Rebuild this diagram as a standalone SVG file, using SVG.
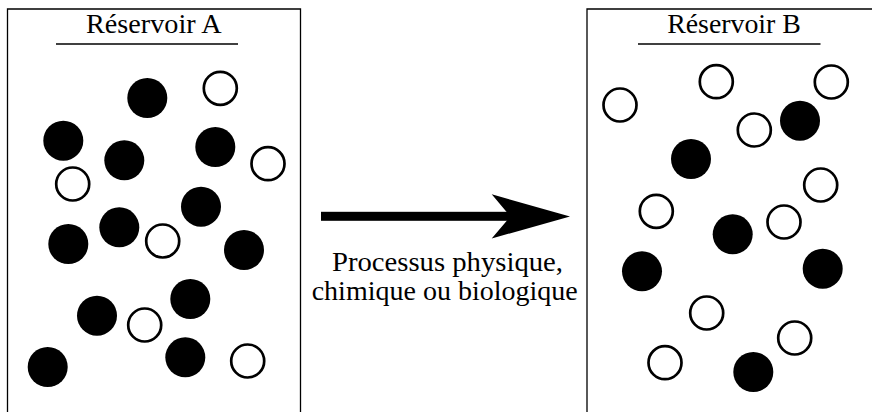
<svg xmlns="http://www.w3.org/2000/svg" width="872" height="412" viewBox="0 0 872 412">
<style>
.box{fill:none;stroke:#000;stroke-width:1.3}
.rule{stroke:#000;stroke-width:1.5}
.title{font-family:"Liberation Serif","Times New Roman",serif;font-size:28px;fill:#000;text-anchor:middle}
.lbl{font-family:"Liberation Serif","Times New Roman",serif;font-size:28px;fill:#000;text-anchor:middle}
.f{fill:#000}
.o{fill:#fff;stroke:#000;stroke-width:2.7}
</style>
<rect width="872" height="412" fill="#fff"/>
<g id="reservoir-a">
<path class="box" d="M7.5,420 V9 H300.5 V420"/>
<text class="title" x="153.8" y="33" textLength="135.5" lengthAdjust="spacingAndGlyphs">Réservoir A</text>
<line class="rule" x1="56" y1="44" x2="238" y2="44"/>
<g id="particles-a">
<circle class="f" cx="147.3" cy="98" r="20"/>
<circle class="f" cx="63.3" cy="140.7" r="20"/>
<circle class="f" cx="124.3" cy="160.3" r="20"/>
<circle class="f" cx="215.3" cy="147" r="20"/>
<circle class="f" cx="201" cy="206.7" r="20"/>
<circle class="f" cx="119.3" cy="227.3" r="20"/>
<circle class="f" cx="68.3" cy="244" r="20"/>
<circle class="f" cx="244" cy="250" r="20"/>
<circle class="f" cx="190.3" cy="299" r="20"/>
<circle class="f" cx="97" cy="315.7" r="20"/>
<circle class="f" cx="185.3" cy="357.3" r="20"/>
<circle class="f" cx="47.7" cy="367" r="20"/>
<circle class="o" cx="220.3" cy="88.3" r="16.5"/>
<circle class="o" cx="268" cy="163.7" r="16.5"/>
<circle class="o" cx="72.7" cy="184" r="16.5"/>
<circle class="o" cx="162.7" cy="241" r="16.5"/>
<circle class="o" cx="144.7" cy="325" r="16.5"/>
<circle class="o" cx="247.7" cy="361" r="16.5"/>
</g>
</g>
<g id="reservoir-b">
<path class="box" d="M587,420 V9 H880"/>
<text class="title" x="734" y="33" textLength="133.7" lengthAdjust="spacingAndGlyphs">Réservoir B</text>
<line class="rule" x1="638" y1="44" x2="820.5" y2="44"/>
<g id="particles-b">
<circle class="o" cx="620" cy="105" r="16.5"/>
<circle class="o" cx="716.3" cy="81.7" r="16.5"/>
<circle class="o" cx="831.3" cy="82" r="16.5"/>
<circle class="o" cx="754.3" cy="130" r="16.5"/>
<circle class="o" cx="820.7" cy="185" r="16.5"/>
<circle class="o" cx="656.3" cy="211.3" r="16.5"/>
<circle class="o" cx="784" cy="222" r="16.5"/>
<circle class="o" cx="706.7" cy="313" r="16.5"/>
<circle class="o" cx="794.7" cy="338" r="16.5"/>
<circle class="o" cx="665" cy="362.7" r="16.5"/>
<circle class="f" cx="800" cy="120.7" r="20"/>
<circle class="f" cx="691" cy="159" r="20"/>
<circle class="f" cx="732.7" cy="234.3" r="20"/>
<circle class="f" cx="642" cy="271.3" r="20"/>
<circle class="f" cx="822.7" cy="268.7" r="20"/>
<circle class="f" cx="753.3" cy="372" r="20"/>
</g>
</g>
<g id="connectors">
<rect x="321" y="211.8" width="192" height="9" fill="#000"/>
<path d="M570,216.5 L491.7,194.3 L510.5,216.5 L491.7,238.5 Z" fill="#000"/>
<text class="lbl" x="447.5" y="270.5" textLength="231" lengthAdjust="spacingAndGlyphs">Processus physique,</text>
<text class="lbl" x="444.7" y="299.5" textLength="266" lengthAdjust="spacingAndGlyphs">chimique ou biologique</text>
</g>
</svg>
